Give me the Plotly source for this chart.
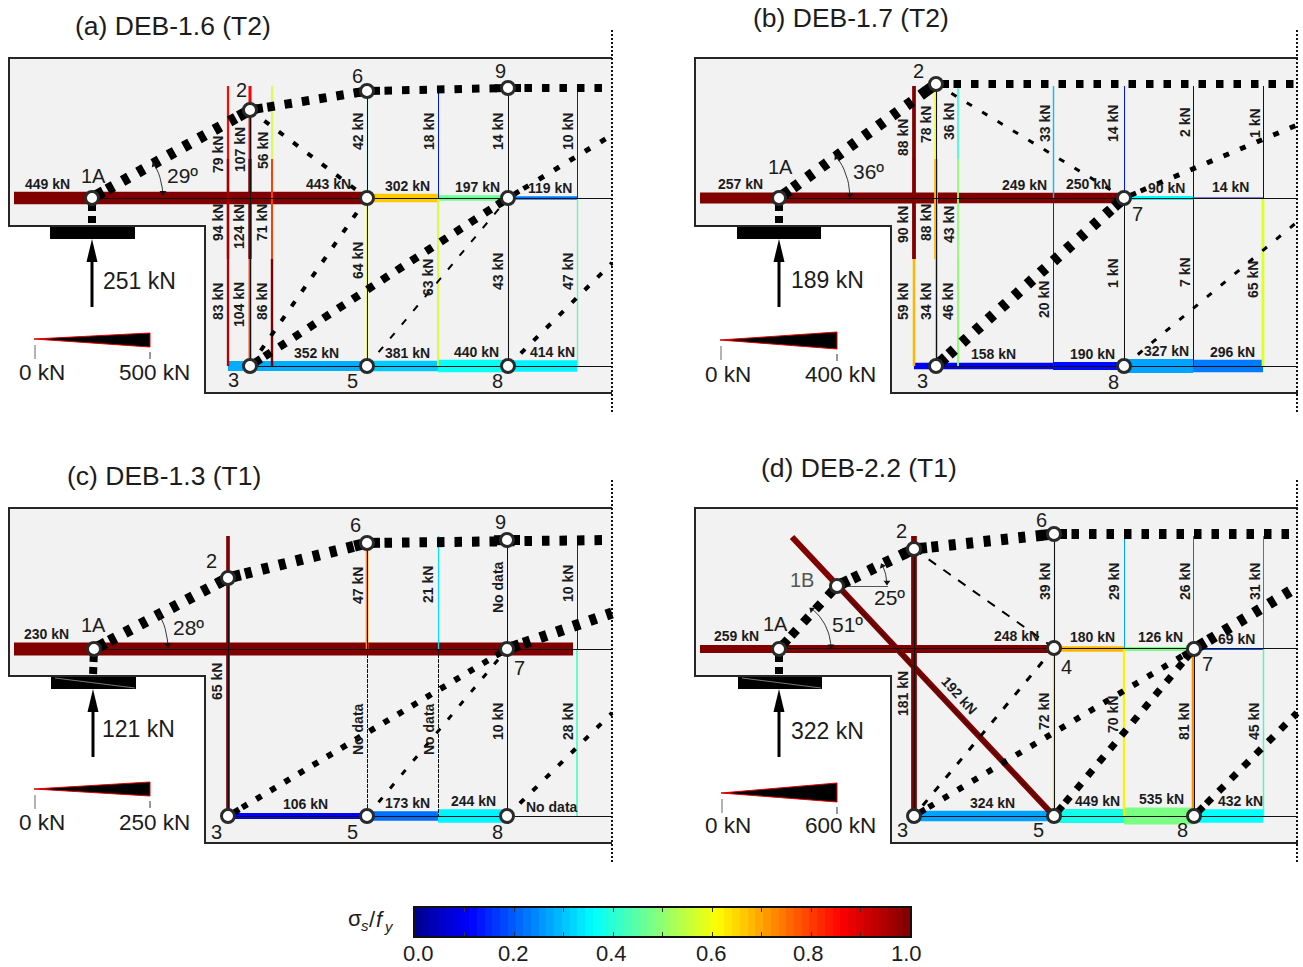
import numpy as np
import plotly.graph_objects as go

W, H = 1303, 967
TXT = "#1c1c1c"
SANS = "Liberation Sans"

# ---------- stress colour map (value, colour channel stops)
JET_V = [0.0, 0.11, 0.36, 0.61, 0.86, 1.0]
JET_R = [0, 0, 0, 255, 255, 128]
JET_G = [0, 0, 255, 255, 0, 0]
JET_B = [143, 255, 255, 0, 0, 0]


def jet(v):
    return "rgb(%d,%d,%d)" % (np.interp(v, JET_V, JET_R), np.interp(v, JET_V, JET_G), np.interp(v, JET_V, JET_B))


# ---------- outline of the beam, same for all four
BEAM_X = [612, 9, 9, 205, 205, 612]
BEAM_Y = [58, 58, 226, 226, 393, 393]

DASH_WIDE = "7px,10.5px"
DASH_BLOCK = "7.5px,10px"
DASH_MID = "6px,12px"
DASH_FINE = "7px,11px"

# ---------- (a) DEB-1.6 (T2)
A_NODES = {"1A": (92, 198), "2": (250, 110), "6": (367, 91), "9": (508, 88), "4": (367, 198), "7": (508, 198),
           "3": (250, 366), "5": (367, 366), "8": (508, 366)}
A_TOP = ([14, 367, 438, 508, 577], [449, 302, 197, 119], [1.0, 0.66, 0.46, 0.23])
A_BOT = ([228, 367, 438, 508, 577], [352, 381, 440, 414], [0.28, 0.31, 0.37, 0.35])
A_STIRRUPS = [
    (228, [86, 159, 259, 366], [79, 94, 83], [0.85, 0.96, 0.94]),
    (250, [86, 159, 259, 366], [107, 124, 104], [0.86, 1.0, 0.8]),
    (272, [86, 159, 259, 366], [56, 71, 86], [0.57, 0.8, 1.0]),
    (367, [86, 198, 366], [42, 64], [0.4, 0.6]),
    (438, [86, 198, 366], [18, 63], [0.13, 0.57]),
    (508, [86, 198, 366], [14, 43], [0.12, 0.38]),
    (577, [86, 198, 366], [10, 47], [0.13, 0.44]),
]
A_THIN = [(92, 198, 612, 198), (250, 366, 612, 366), (250, 110, 250, 366), (367, 91, 367, 366), (508, 88, 508, 366)]
A_STRUTS = [
    (["1A", "2"], 11, DASH_WIDE),
    (["2", "6"], 9, DASH_BLOCK),
    (["6", "9", (612, 88)], 8, DASH_BLOCK),
    (["1A", (92, 226)], 8, DASH_FINE),
    (["2", "4"], 4, DASH_MID),
    (["4", "3"], 4, DASH_MID),
    (["3", "7"], 8, DASH_BLOCK),
    (["7", (612, 135)], 5, DASH_MID),
    (["5", "7"], 2, DASH_FINE),
    (["8", (612, 263)], 4, DASH_MID),
]
A_CIRCLES = ["1A", "2", "6", "9", "4", "7", "3", "5", "8"]
A_NAMES = [("1A", 93, 176), ("2", 241, 90), ("6", 357, 76), ("9", 500, 71), ("3", 233, 380), ("5", 352, 381), ("8", 497, 381)]
A_H_TEXT = [("449 kN", 47, 184), ("443 kN", 328, 184), ("302 kN", 407, 186), ("197 kN", 477, 187), ("119 kN", 550, 188),
            ("352 kN", 316, 353), ("381 kN", 407, 353), ("440 kN", 476, 352), ("414 kN", 552, 352)]
A_V_TEXT = [("79 kN", 218, 155), ("107 kN", 240, 150), ("56 kN", 263, 151), ("94 kN", 218, 223), ("124 kN", 239, 227),
            ("71 kN", 262, 223), ("83 kN", 218, 302), ("104 kN", 239, 305), ("86 kN", 262, 302),
            ("42 kN", 358, 132), ("18 kN", 429, 132), ("14 kN", 498, 132), ("10 kN", 568, 132),
            ("64 kN", 358, 261), ("63 kN", 428, 278), ("43 kN", 498, 272), ("47 kN", 568, 272)]
A_INFO = dict(title="(a) DEB-1.6 (T2)", tx=173, ty=26, load="251 kN", lx=101, ly=281, sup=(50, 135), ax=92,
              wedge=(34, 339, 150, 333, 347), w0=(42, 372), w1=(154, 372), wmax="500 kN", kn=500,
              arcs=[("1A", 71, 29, "29º", 182, 175)], dotted=612, streak=False)

# ---------- (b) DEB-1.7 (T2)
B_NODES = {"1A": (93, 198), "2": (250, 84), "7": (438, 198), "3": (250, 366), "8": (438, 366)}
B_TOP = ([14, 272, 367, 438, 507, 577], [257, 249, 250, 90, 14], [1.0, 1.0, 1.0, 0.36, 0.05])
B_BOT = ([228, 367, 438, 507, 577], [158, 190, 327, 296], [0.1, 0.12, 0.27, 0.23])
B_STIRRUPS = [
    (228, [86, 159, 259, 366], [88, 90, 59], [1.0, 1.0, 0.68]),
    (250, [84, 159, 259, 366], [78, 88, 34], [0.6, 0.68, 0.0]),
    (272, [86, 159, 259, 366], [36, 43, 46], [0.4, 0.5, 0.5]),
    (367, [86, 198, 366], [33, 20], [0.3, 0.14]),
    (438, [86, 198, 366], [14, 1], [0.13, 0.0]),
    (507, [86, 198, 366], [2, 7], [0.05, 0.06]),
    (577, [86, 198, 366], [1, 65], [0.03, 0.58]),
]
B_THIN = [(93, 198, 611, 198), (250, 366, 611, 366), (250, 84, 250, 366), (438, 198, 438, 366)]
B_STRUTS = [
    (["1A", "2"], 11, DASH_WIDE),
    (["2", (611, 84)], 8, DASH_BLOCK),
    (["1A", (93, 226)], 8, DASH_FINE),
    (["2", "7"], 3, DASH_MID),
    (["3", "7"], 11, DASH_WIDE),
    (["7", (611, 125)], 5, DASH_MID),
    (["8", (611, 222)], 3, DASH_MID),
]
B_CIRCLES = ["1A", "2", "7", "3", "8"]
B_NAMES = [("1A", 94, 167), ("2", 232, 71), ("3", 236, 381), ("7", 451, 214), ("8", 427, 382)]
B_H_TEXT = [("257 kN", 54, 184), ("249 kN", 338, 185), ("250 kN", 402, 184), ("90 kN", 480, 188), ("14 kN", 544, 187),
            ("158 kN", 307, 354), ("190 kN", 406, 354), ("327 kN", 480, 351), ("296 kN", 546, 352)]
B_V_TEXT = [("88 kN", 217, 138), ("78 kN", 240, 125), ("36 kN", 263, 122), ("90 kN", 217, 225), ("88 kN", 240, 223),
            ("43 kN", 263, 225), ("59 kN", 217, 302), ("34 kN", 240, 302), ("46 kN", 262, 302),
            ("33 kN", 359, 124), ("20 kN", 358, 300), ("14 kN", 427, 124), ("1 kN", 427, 273),
            ("2 kN", 499, 122), ("7 kN", 499, 272), ("1 kN", 569, 123), ("65 kN", 567, 280)]
B_INFO = dict(title="(b) DEB-1.7 (T2)", tx=165, ty=18, load="189 kN", lx=103, ly=280, sup=(51, 135), ax=93,
              wedge=(34, 340, 151, 332, 349), w0=(42, 374), w1=(154, 374), wmax="400 kN", kn=400,
              arcs=[("1A", 71, 36, "36º", 182, 171)], dotted=611, streak=False)

# ---------- (c) DEB-1.3 (T1)
C_NODES = {"1A": (94, 199), "2": (228, 128), "6": (367, 93), "9": (507, 90), "7": (507, 199),
           "3": (228, 366), "5": (367, 366), "8": (507, 366)}
C_TOP = ([14, 573], [230], [1.0])
C_BOT = ([228, 367, 438, 507], [106, 173, 244], [0.1, 0.22, 0.35])
C_STIRRUPS = [
    (228, [86, 366], [65], [1.0]),
    (367, [86, 199, 366], [47, None], [0.72, 0]),
    (438, [86, 199, 366], [21, None], [0.33, 0]),
    (507, [90, 199, 366], [None, 10], [0, 0]),
    (577, [86, 199, 366], [10, 28], [0.13, 0.42]),
]
C_THIN = [(94, 199, 612, 199), (507, 366, 612, 366), (228, 128, 228, 366), (228, 366, 507, 366),
          (507, 199, 507, 366), (367, 93, 367, 199)]
C_STRUTS = [
    (["1A", "2"], 11, DASH_WIDE),
    (["2", "6"], 11, DASH_WIDE),
    (["6", "9", (612, 90)], 10, DASH_BLOCK),
    (["1A", (93, 226)], 8, DASH_FINE),
    (["3", "7"], 6, "6px,10.5px"),
    (["7", (612, 163)], 11, DASH_WIDE),
    (["5", "7"], 3, DASH_MID),
    (["8", (612, 263)], 4, DASH_MID),
]
C_CIRCLES = ["1A", "2", "6", "9", "7", "3", "5", "8"]
C_NAMES = [("1A", 93, 175), ("2", 211, 111), ("6", 355, 75), ("9", 500, 72), ("3", 216, 382), ("5", 352, 382),
           ("8", 497, 382), ("7", 519, 218)]
C_H_TEXT = [("230 kN", 46, 184), ("106 kN", 305, 354), ("173 kN", 407, 353), ("244 kN", 473, 351), ("No data", 552, 357)]
C_V_TEXT = [("65 kN", 217, 232), ("47 kN", 358, 136), ("21 kN", 428, 135), ("No data", 498, 137), ("10 kN", 568, 134),
            ("No data", 358, 279), ("No data", 429, 279), ("10 kN", 498, 272), ("28 kN", 568, 272)]
C_INFO = dict(title="(c) DEB-1.3 (T1)", tx=164, ty=26, load="121 kN", lx=100, ly=279, sup=(51, 136), ax=93,
              wedge=(34, 339, 150, 332, 346), w0=(42, 372), w1=(154, 372), wmax="250 kN", kn=250,
              arcs=[("1A", 74, 28, "28º", 188, 177)], dotted=612, streak=True)

# ---------- (d) DEB-2.2 (T1)
D_NODES = {"1A": (93, 199), "1B": (151, 136), "2": (228, 99), "6": (368, 84), "4": (368, 198), "7": (508, 199),
           "3": (228, 366), "5": (368, 366), "8": (508, 366)}
D_TOP = ([14, 368, 438, 508, 577], [259, 180, 126, 69], [1.0, 0.68, 0.48, 0.2])
D_BOT = ([228, 368, 438, 508, 577], [324, 449, 535, 432], [0.27, 0.38, 0.48, 0.36])
D_STIRRUPS = [
    (228, [86, 366], [181], [1.0]),
    (368, [86, 198, 366], [39, 72], [0.3, 0.63]),
    (438, [86, 198, 366], [29, 70], [0.27, 0.62]),
    (507, [86, 199, 366], [26, 81], [0.22, 0.72]),
    (577, [86, 198, 366], [31, 45], [0.25, 0.42]),
]
D_DIAGONAL = ((106, 87), (368, 366), 192, 1.0)
D_THIN = [(93, 198, 611, 198), (228, 366, 611, 366), (228, 99, 228, 366), (368, 84, 368, 366), (508, 199, 508, 366),
          (151, 136, 368, 366)]
D_GREY = [(151, 136, 202, 136)]
D_STRUTS = [
    (["1A", "1B"], 9, "8px,10px"),
    (["1B", "2"], 11, DASH_WIDE),
    (["2", "6"], 11, DASH_WIDE),
    (["6", (611, 84)], 10, DASH_BLOCK),
    (["1A", (93, 226)], 8, DASH_FINE),
    (["2", "4"], 2, "9px,9px"),
    (["4", "3"], 3, DASH_FINE),
    (["3", "7"], 6, "6px,11px"),
    (["5", "7"], 7, DASH_BLOCK),
    (["7", (611, 137)], 11, DASH_WIDE),
    (["8", (611, 263)], 7, DASH_BLOCK),
]
D_CIRCLES = ["1A", "1B", "2", "6", "4", "7", "3", "5", "8"]
D_NAMES = [("1B", 116, 130), ("1A", 89, 174), ("2", 215, 81), ("6", 355, 70), ("3", 216, 380), ("5", 352, 380),
           ("8", 496, 380), ("4", 380, 217), ("7", 521, 214)]
D_H_TEXT = [("259 kN", 50, 186), ("248 kN", 330, 186), ("180 kN", 406, 187), ("126 kN", 474, 187), ("69 kN", 550, 189),
            ("324 kN", 306, 353), ("449 kN", 411, 351), ("535 kN", 475, 349), ("432 kN", 554, 351)]
D_V_TEXT = [("181 kN", 217, 244), ("39 kN", 359, 132), ("29 kN", 428, 132), ("26 kN", 499, 132), ("31 kN", 569, 132),
            ("72 kN", 358, 262), ("70 kN", 427, 265), ("81 kN", 498, 272), ("45 kN", 568, 272)]
D_INFO = dict(title="(d) DEB-2.2 (T1)", tx=173, ty=18, load="322 kN", lx=103, ly=281, sup=(52, 136), ax=93,
              wedge=(35, 343, 151, 333, 352), w0=(42, 375), w1=(154, 375), wmax="600 kN", kn=600,
              arcs=[("1A", 52, 51, "51º", 161, 174), ("1B", 50, 25, "25º", 203, 147)], dotted=611, streak=True)

# ---------- page placement of each panel (left, top) and colour bar
PANEL_ORIGIN = [(0, 0), (686, 0), (0, 450), (686, 450)]
PANEL_W, PANEL_H = 617, 430
CBAR_BOX = (415, 908, 910, 936)
CBAR_TICKS = [0.0, 0.2, 0.4, 0.6, 0.8, 1.0]
CBAR_TICK_POS = [0.008, 0.198, 0.397, 0.598, 0.795, 0.992]
CBAR_LEVELS = 64
CBAR_NAME = [("σ", 355, 918, 22, False), ("s", 365.5, 925, 15, True), ("/", 372.5, 919, 22, False),
             ("f", 380.5, 919, 22, True), ("y", 389, 926, 15, True)]
PIXEL_ALIGN = 0.5

fig = go.Figure()
annots = []


def line(ax, xs, ys, color, width, dash=None):
    fig.add_trace(go.Scatter(x=xs, y=ys, xaxis="x" + ax, yaxis="y" + ax, mode="lines", hoverinfo="skip",
                             line=dict(color=color, width=width, dash=dash), showlegend=False))


def poly(ax, xs, ys, color, outline=None, lw=0):
    fig.add_trace(go.Scatter(x=xs, y=ys, xaxis="x" + ax, yaxis="y" + ax, mode="lines", fill="toself", fillcolor=color,
                             line=dict(color=outline or color, width=lw), hoverinfo="skip", showlegend=False))


def text(ax, s, x, y, size, font=SANS, angle=0, color=TXT, bold=False):
    annots.append(dict(text="<b>%s</b>" % s if bold else s, x=x, y=y, xref="x" + ax, yref="y" + ax, showarrow=False,
                       textangle=angle, font=dict(family=font, size=size, color=color), xanchor="center",
                       yanchor="middle"))


def draw_panel(ax, nodes, top, bot, stirrups, thin, struts, circles, names, htext, vtext, info, grey=(), diag=None):
    poly(ax, BEAM_X + [BEAM_X[0]], BEAM_Y + [BEAM_Y[0]], "#f2f2f2")
    line(ax, BEAM_X, BEAM_Y, "#262626", 2)
    line(ax, [info["dotted"], info["dotted"]], [30, 412], "#111111", 2, "2px,2px")
    wx0, wy0, wx1, wy_a, wy_b = info["wedge"]
    scale = (wy_b - wy_a) / info["kn"]
    # chords
    for (edges, kn, ratio), y in ((top, nodes["1A"][1]), (bot, nodes["3"][1])):
        for i in range(len(kn)):
            line(ax, [edges[i], edges[i + 1]], [y, y], jet(ratio[i]), max(1, kn[i] * scale))
    # stirrups
    for x, ys, kn, ratio in stirrups:
        for i in range(len(kn)):
            if kn[i] is None:
                line(ax, [x + PIXEL_ALIGN] * 2, [ys[i], ys[i + 1]], "#111111", 1, "4px,1px" if x in (367, 438) else None)
            else:
                wd = max(1, kn[i] * scale)
                cx = x + PIXEL_ALIGN if wd < 1.5 else x
                line(ax, [cx, cx], [ys[i], ys[i + 1]], jet(ratio[i]), wd)
    if diag:
        line(ax, [diag[0][0], diag[1][0]], [diag[0][1], diag[1][1]], jet(diag[3]), diag[2] * scale)
    for x0, y0, x1, y1 in thin:
        dx_ = PIXEL_ALIGN if x0 == x1 else 0
        dy_ = PIXEL_ALIGN if y0 == y1 else 0
        line(ax, [x0 + dx_, x1 + dx_], [y0 + dy_, y1 + dy_], "#111111", 1)
    for x0, y0, x1, y1 in grey:
        line(ax, [x0, x1], [y0 + PIXEL_ALIGN, y1 + PIXEL_ALIGN], "#555555", 1)
    # struts: dashed run plus a solid block either side of every named node
    for path, w, dash in struts:
        pts = [nodes[p] if isinstance(p, str) else p for p in path]
        line(ax, [p[0] for p in pts], [p[1] for p in pts], "#000000", w, dash)
        if w >= 5:
            for i, p in enumerate(path):
                if not isinstance(p, str):
                    continue
                for j in (i - 1, i + 1):
                    if 0 <= j < len(pts):
                        a0 = np.array(pts[i], float)
                        a1 = np.array(pts[j], float)
                        d = np.linalg.norm(a1 - a0)
                        end = a0 + (a1 - a0) * min(13.0, d) / d
                        line(ax, [a0[0], end[0]], [a0[1], end[1]], "#000000", w)
    # support plate and reaction
    s0, s1 = info["sup"]
    poly(ax, [s0, s1, s1, s0, s0], [227, 227, 239, 239, 227], "#000000")
    if info["streak"]:
        line(ax, [s0 + 4, s1 - 1], [228, 238], "#c8c8c8", 0.6)
    a = info["ax"]
    line(ax, [a, a], [260, 307], "#000000", 3)
    poly(ax, [a, a - 5.5, a + 5.5, a], [239, 262, 262, 239], "#000000")
    # force scale wedge
    poly(ax, [wx0, wx1, wx1, wx0], [wy0, wy_a, wy_b, wy0], "#000000", "#e00000", 1)
    line(ax, [wx0 + 1, wx0 + 1], [wy0 + 6, wy0 + 20], "#808080", 1.2)
    line(ax, [wx1, wx1], [wy_b + 5, wy_b + 12], "#333333", 1)
    # angle arcs
    for node, r, deg, label, tx, ty in info["arcs"]:
        th = np.radians(np.arange(deg, -0.5, -3.0))
        cx, cy = nodes[node]
        ax_x, ax_y = cx + r * np.cos(th), cy - r * np.sin(th)
        line(ax, list(ax_x), list(ax_y), "#222222", 0.9)
        fig.add_trace(go.Scatter(x=[ax_x[-1], ax_x[0]], y=[ax_y[-1] - 3, ax_y[0] + 1], xaxis="x" + ax, yaxis="y" + ax,
                                 mode="markers", hoverinfo="skip", showlegend=False,
                                 marker=dict(symbol="triangle-down", size=6, color="#111111", angle=[0, 180 - deg])))
        text(ax, label, tx, ty, 21)
    # nodes
    fig.add_trace(go.Scatter(x=[nodes[c][0] for c in circles], y=[nodes[c][1] for c in circles], xaxis="x" + ax,
                             yaxis="y" + ax, mode="markers", hoverinfo="skip", showlegend=False,
                             marker=dict(symbol="circle", size=13, color="#ffffff", line=dict(color="#2a2a2a", width=3))))
    # texts
    text(ax, info["title"], info["tx"], info["ty"], 26.5)
    annots.append(dict(text=info["load"], x=info["lx"], y=info["ly"], xref="x" + ax, yref="y" + ax, showarrow=False,
                       xanchor="left", yanchor="middle", font=dict(family=SANS, size=23, color=TXT)))
    text(ax, "0 kN", info["w0"][0], info["w0"][1], 22.5)
    text(ax, info["wmax"], info["w1"][0], info["w1"][1], 22.5)
    for s, x, y in names:
        text(ax, s, x, y, 20, color="#555555" if s == "1B" else TXT)
    for s, x, y in htext:
        text(ax, s, x, y, 14, bold=True)
    for s, x, y in vtext:
        text(ax, s, x, y, 14, angle=-90, bold=True)


draw_panel("", A_NODES, A_TOP, A_BOT, A_STIRRUPS, A_THIN, A_STRUTS, A_CIRCLES, A_NAMES, A_H_TEXT, A_V_TEXT, A_INFO)
draw_panel("2", B_NODES, B_TOP, B_BOT, B_STIRRUPS, B_THIN, B_STRUTS, B_CIRCLES, B_NAMES, B_H_TEXT, B_V_TEXT, B_INFO)
draw_panel("3", C_NODES, C_TOP, C_BOT, C_STIRRUPS, C_THIN, C_STRUTS, C_CIRCLES, C_NAMES, C_H_TEXT, C_V_TEXT, C_INFO)
draw_panel("4", D_NODES, D_TOP, D_BOT, D_STIRRUPS, D_THIN, D_STRUTS, D_CIRCLES, D_NAMES, D_H_TEXT, D_V_TEXT, D_INFO,
           grey=D_GREY, diag=D_DIAGONAL)
text("4", "192 kN", 273, 245, 14, angle=48, bold=True)

# colour bar
levels = (np.arange(CBAR_LEVELS) + 0.5) / CBAR_LEVELS
fig.add_trace(go.Heatmap(x=levels, y=[0.5], z=[levels], xaxis="x5", yaxis="y5", zmin=0, zmax=1, showscale=False,
                         hoverinfo="skip", colorscale=[[v, jet(v)] for v in JET_V]))
for v, p in zip(CBAR_TICKS, CBAR_TICK_POS):
    annots.append(dict(text="%.1f" % v, x=p, y=1 - 953 / H, xref="x5", yref="paper", showarrow=False, xanchor="center",
                       yanchor="middle", font=dict(family=SANS, size=22, color=TXT)))
for s, px, py, size, ital in CBAR_NAME:
    annots.append(dict(text="<i>%s</i>" % s if ital else s, x=px / W, y=1 - py / H, xref="paper", yref="paper",
                       showarrow=False, xanchor="center", yanchor="middle", font=dict(family=SANS, size=size, color=TXT)))

layout = dict(width=W, height=H, margin=dict(l=0, r=0, t=0, b=0), paper_bgcolor="white", plot_bgcolor="white",
              showlegend=False, annotations=annots)
for i, (suffix, (ox, oy)) in enumerate(zip(["", "2", "3", "4"], PANEL_ORIGIN)):
    layout["xaxis" + suffix] = dict(domain=[ox / W, (ox + PANEL_W) / W], range=[0, PANEL_W], visible=False,
                                    anchor="y" + suffix, fixedrange=True)
    layout["yaxis" + suffix] = dict(domain=[1 - (oy + PANEL_H) / H, 1 - oy / H], range=[PANEL_H, 0], visible=False,
                                    anchor="x" + suffix, fixedrange=True)
x0, y0, x1, y1 = CBAR_BOX
layout["xaxis5"] = dict(domain=[x0 / W, x1 / W], range=[0, 1], anchor="y5", showline=True, mirror="ticks",
                        linecolor="#111111", linewidth=1.5, ticks="inside", ticklen=4, tickcolor="#333333", tickwidth=1,
                        tick0=0, dtick=0.1, showticklabels=False, showgrid=False, zeroline=False)
layout["yaxis5"] = dict(domain=[1 - y1 / H, 1 - y0 / H], range=[0, 1], anchor="x5", showline=True, mirror=True,
                        linecolor="#111111", linewidth=1.5, ticks="", showticklabels=False, showgrid=False,
                        zeroline=False)
fig.update_layout(**layout)
fig.write_html("out.html", config=dict(displayModeBar=False), post_script="document.body.style.margin='0';")
